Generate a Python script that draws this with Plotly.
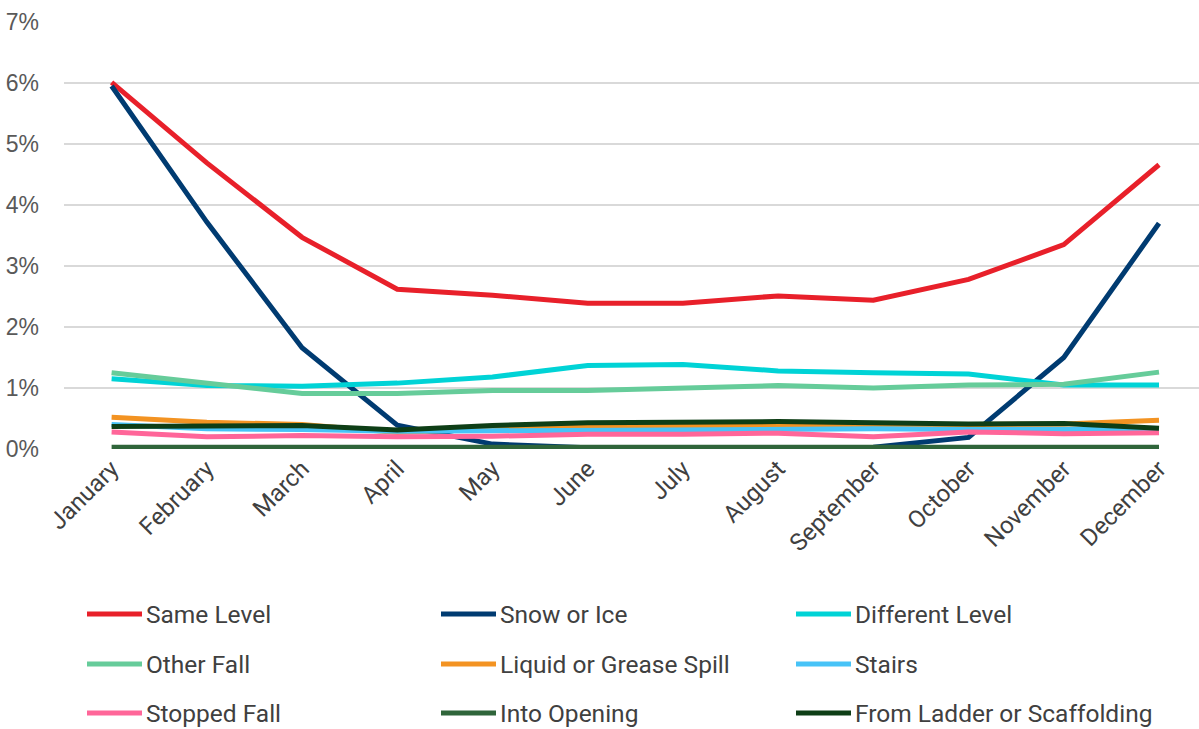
import plotly.graph_objects as go

# Monthly share of injuries by fall type (percent)
months = ["January", "February", "March", "April", "May", "June", "July",
          "August", "September", "October", "November", "December"]

same_level = [6.01, 4.69, 3.47, 2.62, 2.52, 2.39, 2.39, 2.51, 2.44, 2.78, 3.35, 4.66]
snow_or_ice = [5.95, 3.72, 1.66, 0.39, 0.08, 0.02, 0.01, 0.02, 0.03, 0.19, 1.50, 3.70]
different_level = [1.15, 1.04, 1.03, 1.08, 1.18, 1.37, 1.385, 1.28, 1.25, 1.23, 1.05, 1.05]
other_fall = [1.25, 1.08, 0.91, 0.91, 0.96, 0.96, 0.99, 1.04, 1.00, 1.05, 1.06, 1.26]
liquid_spill = [0.52, 0.44, 0.40, 0.27, 0.33, 0.37, 0.375, 0.385, 0.39, 0.40, 0.41, 0.47]
stairs = [0.40, 0.33, 0.32, 0.29, 0.30, 0.31, 0.32, 0.34, 0.33, 0.32, 0.33, 0.32]
stopped_fall = [0.28, 0.20, 0.22, 0.20, 0.21, 0.24, 0.24, 0.26, 0.20, 0.28, 0.25, 0.265]
into_opening = [0.03, 0.03, 0.03, 0.04, 0.04, 0.04, 0.04, 0.05, 0.05, 0.04, 0.04, 0.03]
ladder_scaffold = [0.37, 0.37, 0.385, 0.31, 0.385, 0.43, 0.45, 0.45, 0.43, 0.41, 0.42, 0.34]

y_ticks = [0, 1, 2, 3, 4, 5, 6, 7]
y_tick_text = ["0%", "1%", "2%", "3%", "4%", "5%", "6%", "7%"]

series = [
    ("Same Level", same_level, "#e8202a"),
    ("Snow or Ice", snow_or_ice, "#003b71"),
    ("Different Level", different_level, "#00d3d6"),
    ("Other Fall", other_fall, "#66cc9a"),
    ("Liquid or Grease Spill", liquid_spill, "#f39322"),
    ("Stairs", stairs, "#47c3f7"),
    ("Stopped Fall", stopped_fall, "#ff6699"),
    ("Into Opening", into_opening, "#2f653a"),
    ("From Ladder or Scaffolding", ladder_scaffold, "#0e3e16"),
]

W, H = 1199, 729
L, R, T, B = 64, 0, 22, 280
PW, PH = W - L - R, H - T - B

narrow = "Roboto, Liberation Sans Narrow, sans-serif"
text_grey = "#404040"

fig = go.Figure()
for name, vals, color in series:
    fig.add_trace(go.Scatter(
        x=months, y=vals, name=name, mode="lines",
        line=dict(color=color, width=5),
        showlegend=False,
    ))


def px_x(px):
    return (px - L) / PW


def px_y(py):
    return (H - B - py) / PH


# Three-column legend underneath the plot
col_line_x = [87, 441, 796]
row_y = [614, 664, 713]
for i, (name, vals, color) in enumerate(series):
    cx = col_line_x[i % 3]
    ry = row_y[i // 3]
    fig.add_shape(type="line", xref="paper", yref="paper",
                  x0=px_x(cx), x1=px_x(cx + 55), y0=px_y(ry), y1=px_y(ry),
                  line=dict(color=color, width=5))
    fig.add_annotation(xref="paper", yref="paper", x=px_x(cx + 57), y=px_y(ry),
                       text=name, showarrow=False, xanchor="left", yanchor="middle",
                       font=dict(family=narrow, size=24.5, color=text_grey))

fig.update_layout(
    width=W, height=H,
    margin=dict(l=L, r=R, t=T, b=B),
    paper_bgcolor="white", plot_bgcolor="white",
    xaxis=dict(
        range=[-0.5, 11.42], showgrid=False, zeroline=False, showline=False,
        ticks="", tickangle=-45,
        tickfont=dict(family=narrow, size=24, color=text_grey),
    ),
    yaxis=dict(
        range=[0, 7], tickvals=y_ticks, ticktext=y_tick_text,
        showgrid=True, gridcolor="#d9d9d9", gridwidth=2, zeroline=False,
        showline=False, ticks="", ticklabelstandoff=24,
        tickfont=dict(family="Liberation Sans, Arial, sans-serif", size=23, color="#595959"),
    ),
)

fig.write_html("out.html")
